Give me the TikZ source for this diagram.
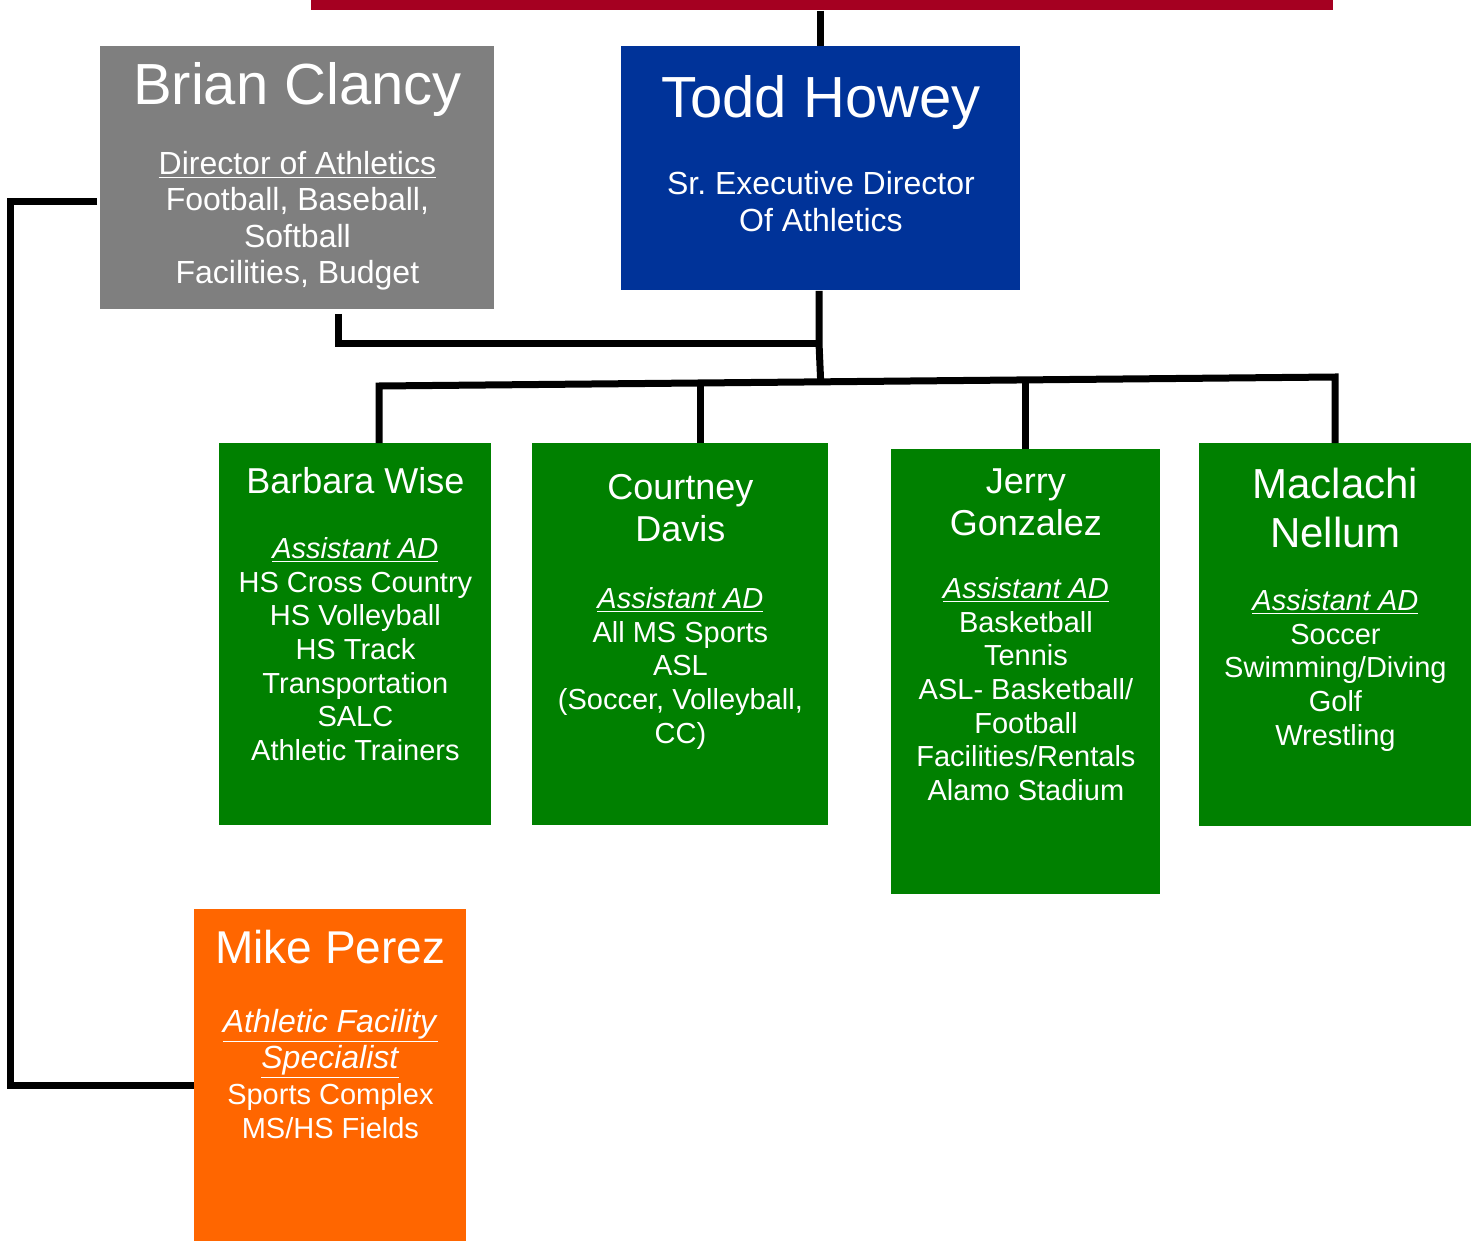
\documentclass[tikz,border=0pt]{standalone}
\usepackage{fontspec}
\setmainfont{Liberation Sans}
\frenchspacing
\usetikzlibrary{calc}
\usetikzlibrary{positioning}

\definecolor{barred}{HTML}{A50021}
\definecolor{bossblue}{HTML}{003399}
\definecolor{bossgray}{HTML}{7F7F7F}
\definecolor{adgreen}{HTML}{008000}
\definecolor{facorange}{HTML}{FF6600}

\newcommand{\bodyfont}{\fontsize{14.5}{16.85}\selectfont\lineskiplimit=-10pt}
\newcommand{\namefont}[2]{\fontsize{#1}{#2}\selectfont}

\tikzset{
  orgbox/.style={inner sep=0pt, align=flush center, text=white, anchor=north west, font=\bodyfont},
  link/.style={line width=3.5pt, black},
}

\begin{document}
\begin{tikzpicture}[x=0.5pt, y=-0.5pt]
  \path[fill=white, use as bounding box] (0,0) rectangle (1476,1241);

  \node [fill=barred, inner sep=0pt, anchor=north west,
  minimum width=511pt, minimum height=5pt] (topbar) at (311,0) {};

  \node [orgbox, fill=bossgray, text width=197pt, text height=29pt, text depth=102.5pt,
  font=\fontsize{16}{18.25}\selectfont] (clancy) at (100,46) {
    {\namefont{29}{34}Brian Clancy\par}
    \vspace{16.75pt}
    \underline{Director of Athletics}\\
    Football, Baseball,\\
    Softball\\
    Facilities, Budget
  };

  \node [orgbox, fill=bossblue, text width=199.5pt, text height=35.5pt, text depth=86.5pt,
  font=\fontsize{16}{18.5}\selectfont] (howey) at (621,46) {
    {\namefont{29}{34}Todd Howey\par}
    \vspace{20pt}
    Sr. Executive Director\\
    Of Athletics
  };

  \node [orgbox, fill=adgreen, text width=136pt, text height=25pt, text depth=166pt] (wise) at (219,443) {
    {\namefont{18}{21}Barbara Wise\par}
    \vspace{15.65pt}
    \underline{\textit{Assistant AD}}\\
    HS Cross Country\\
    HS Volleyball\\
    HS Track\\
    Transportation\\
    SALC\\
    Athletic Trainers
  };

  \node [orgbox, fill=adgreen, text width=148pt, text height=28pt, text depth=163pt] (davis) at (532,443) {
    {\namefont{18}{21}Courtney\\ Davis\par}
    \vspace{16.65pt}
    \underline{\textit{Assistant AD}}\\
    All MS Sports\\
    ASL\\
    (Soccer, Volleyball,\\
    CC)
  };

  \node [orgbox, fill=adgreen, text width=134.5pt, text height=22pt, text depth=200.5pt] (gonzalez) at (891,449) {
    {\namefont{18}{21}Jerry\\ Gonzalez\par}
    \vspace{14.65pt}
    \underline{\textit{Assistant AD}}\\
    Basketball\\
    Tennis\\
    ASL- Basketball/\\
    Football\\
    Facilities/Rentals\\
    Alamo Stadium
  };

  \node [orgbox, fill=adgreen, text width=136pt, text height=27.5pt, text depth=164pt] (nellum) at (1199,443) {
    {\namefont{21}{24.5}Maclachi\\ Nellum\par}
    \vspace{14.65pt}
    \underline{\textit{Assistant AD}}\\
    Soccer\\
    Swimming/Diving\\
    Golf\\
    Wrestling
  };

  \node [orgbox, fill=facorange, text width=136pt, text height=27pt, text depth=139pt,
  font=\fontsize{14.5}{17}\selectfont] (perez) at (194,909) {
    {\namefont{23}{27}Mike Perez\par}
    \vspace{16.5pt}
    {\fontsize{16}{18}\selectfont\underline{\textit{Athletic Facility}}\\
    \underline{\textit{Specialist}}\par}
    \vspace{1pt}
    Sports Complex\\
    MS/HS Fields
  };

  % connectors
  \coordinate (hub) at (819,343);
  \coordinate (barL) at (379,386);
  \coordinate (barR) at (1335,377);
  \path ($(barL)!0.336!(barR)$) coordinate (tDavis)
        ($(barL)!0.462!(barR)$) coordinate (tHowey)
        ($(barL)!0.676!(barR)$) coordinate (tGonzalez);

  \draw [link] (topbar.south -| howey.north) -- (howey.north);
  \draw [link] (howey.south -| hub) -- (hub) -- (tHowey);
  \draw [link] ($(clancy.south west)+(238,4)$) |- (hub);
  \draw [link] (barL |- wise.north) -- (barL) -- (barR) -- (barR |- nellum.north);
  \draw [link] (tDavis) -- (tDavis |- davis.north);
  \draw [link] (tGonzalez) -- (tGonzalez |- gonzalez.north);
  \draw [link] ($(clancy.north west)+(-3,156)$) -- ++(-87,0) |- ($(perez.north west)+(0,176)$);

\end{tikzpicture}
\end{document}
